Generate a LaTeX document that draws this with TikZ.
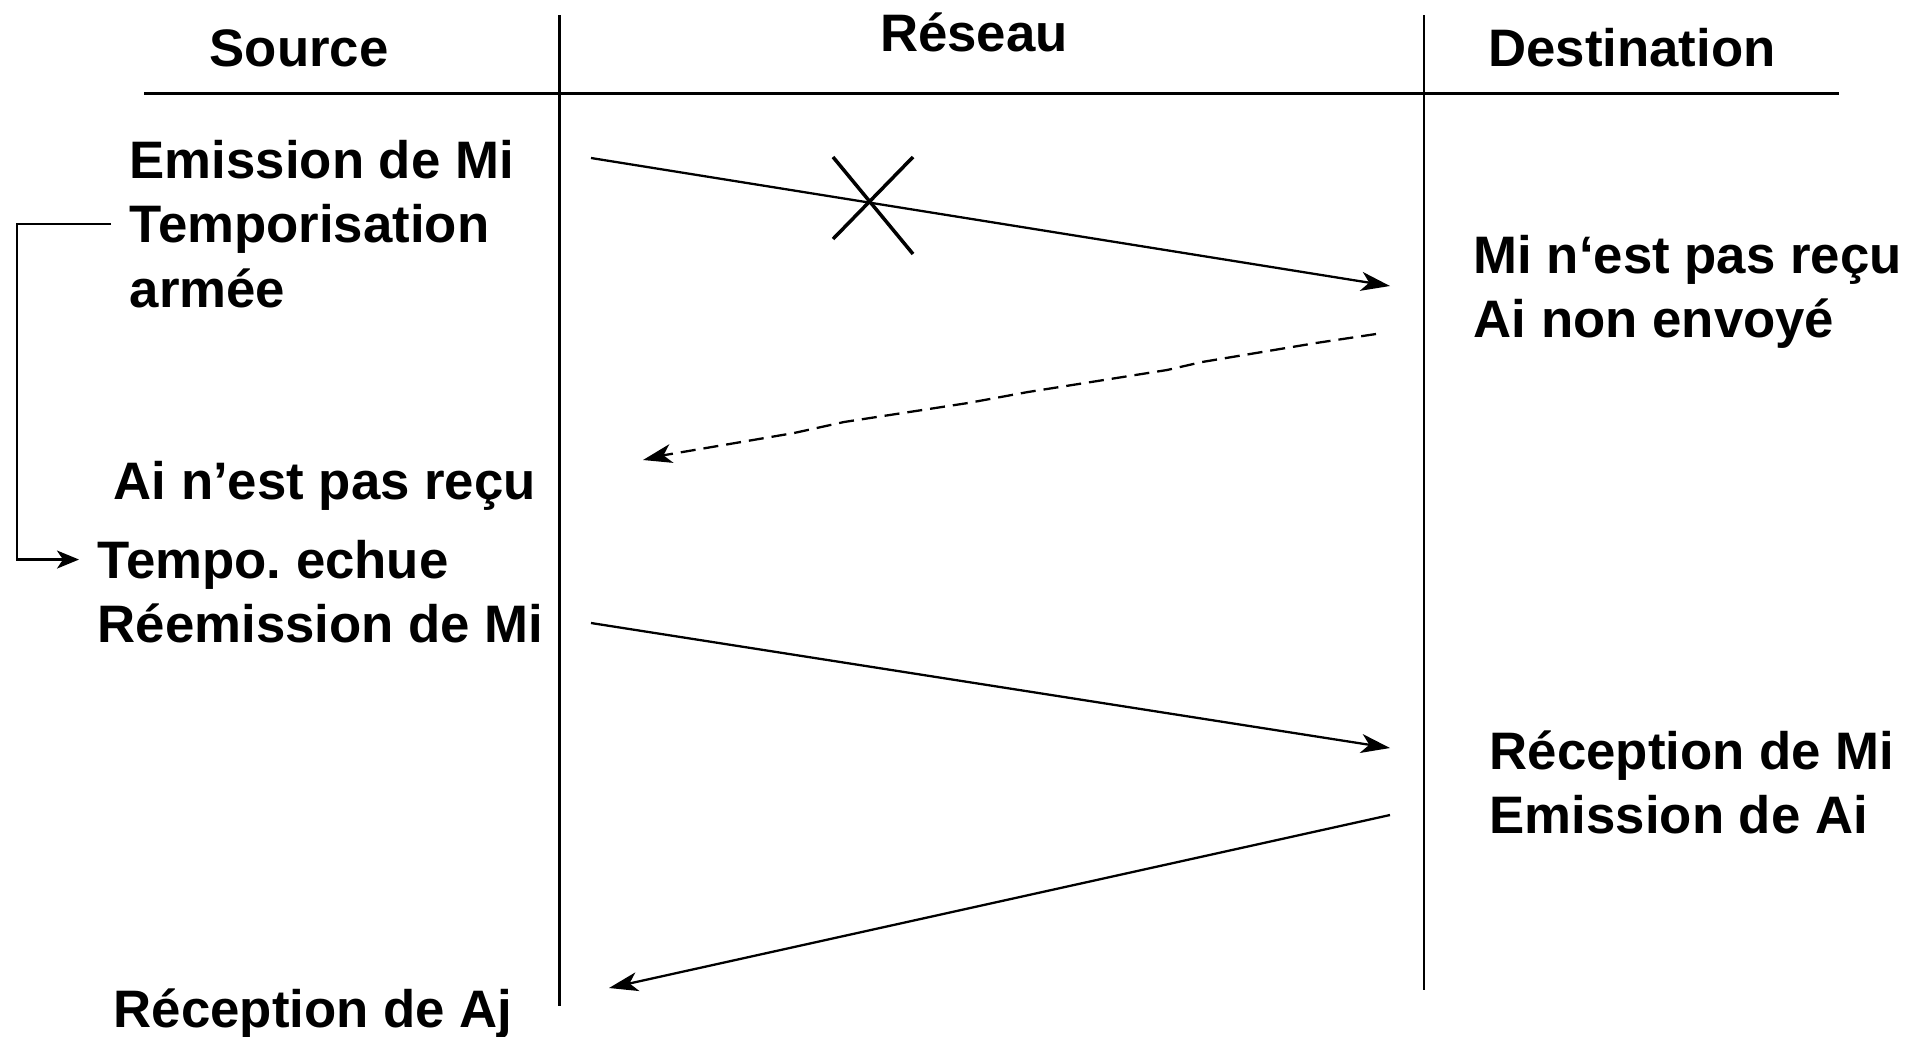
\documentclass[tikz,border=0pt]{standalone}
\usepackage{fontspec}
\setmainfont{Liberation Sans}
\usetikzlibrary{arrows.meta,
	positioning
}
\tikzset{
	lbl/.style={font=\fontsize{15pt}{18pt}\selectfont\bfseries, inner xsep=0.18cm, inner ysep=0pt, text height=12pt, text depth=1.5pt, anchor=base west},
	head/.style={font=\fontsize{15pt}{18pt}\selectfont\bfseries, inner sep=0pt, anchor=base},
	lifeline/.style={line width=0.8pt},
	rule/.style={line width=0.9pt},
	msg/.style={line width=0.65pt, -{Stealth[length=0.29cm, width=0.19cm, inset=0.08cm]}},
	lost/.style={msg, dash pattern=on 0.15cm off 0.08cm},
	timer/.style={line width=0.65pt, -{Stealth[length=0.22cm, width=0.18cm, inset=0.06cm]}},
	cross/.style={line width=1pt},
}

\begin{document}
\begin{tikzpicture}[x=0.01cm, y=-0.01cm, node distance=4.5pt and 0pt]
\useasboundingbox (0,0) rectangle (1928,1036);

% columns

\node[head] (src) at (299,66) {Source};
\node[head] (net) at (974,51) {Réseau};
\node[head] (dst) at (1632,66) {Destination};

\draw[lifeline] (559.5,15) -- (559.5,1006);
\draw[lifeline] (1424,15) -- (1424,990);
\draw[rule] (144,93.5) -- (1839,93.5);

% source side

\node[lbl] (emi) at (111,178) {Emission de Mi};
\node[lbl, below right=of emi.south west] (tmp) {Temporisation};
\node[lbl, below right=of tmp.south west] (arm) {armée};

\node[lbl] (anr) at (95,499) {Ai n’est pas reçu};
\node[lbl] (tpe) at (79,578) {Tempo.\ echue};
\node[lbl, below right=of tpe.south west] (rem) {Réemission de Mi};

\node[lbl] (raj) at (95,1027) {Réception de Aj};

% destination side

\node[lbl] (mnr) at (1455,273) {Mi n‘est pas reçu};
\node[lbl, below right=of mnr.south west] (ane) {Ai non envoyé};

\node[lbl] (rmi) at (1471,769) {Réception de Mi};
\node[lbl, below right=of rmi.south west] (eai) {Emission de Ai};

% message ends

\coordinate (m1a) at (591,158);
\coordinate (m1b) at (1390,286);
\coordinate (a1a) at (1376,334);
\coordinate (a1b) at (643,460);
\coordinate (m2a) at (591,623);
\coordinate (m2b) at (1390,748);
\coordinate (a2a) at (1390,815);
\coordinate (a2b) at (609,988);

% connections

\draw[msg] (m1a) -- (m1b);
\draw[cross] (833,157) -- (913,254);
\draw[cross] (913,157) -- (833,239);

\draw[lost] (a1a) -- (1316,343) -- (1202,362) -- (1167,370) -- (1028,392)
-- (968,403) -- (844,422) -- (794,433) -- (665,455) -- (a1b);

\draw[msg] (m2a) -- (m2b);
\draw[msg] (a2a) -- (a2b);

\draw[timer] (tmp.west) -- ++(-94,0) |- (tpe.west);

\end{tikzpicture}
\end{document}
